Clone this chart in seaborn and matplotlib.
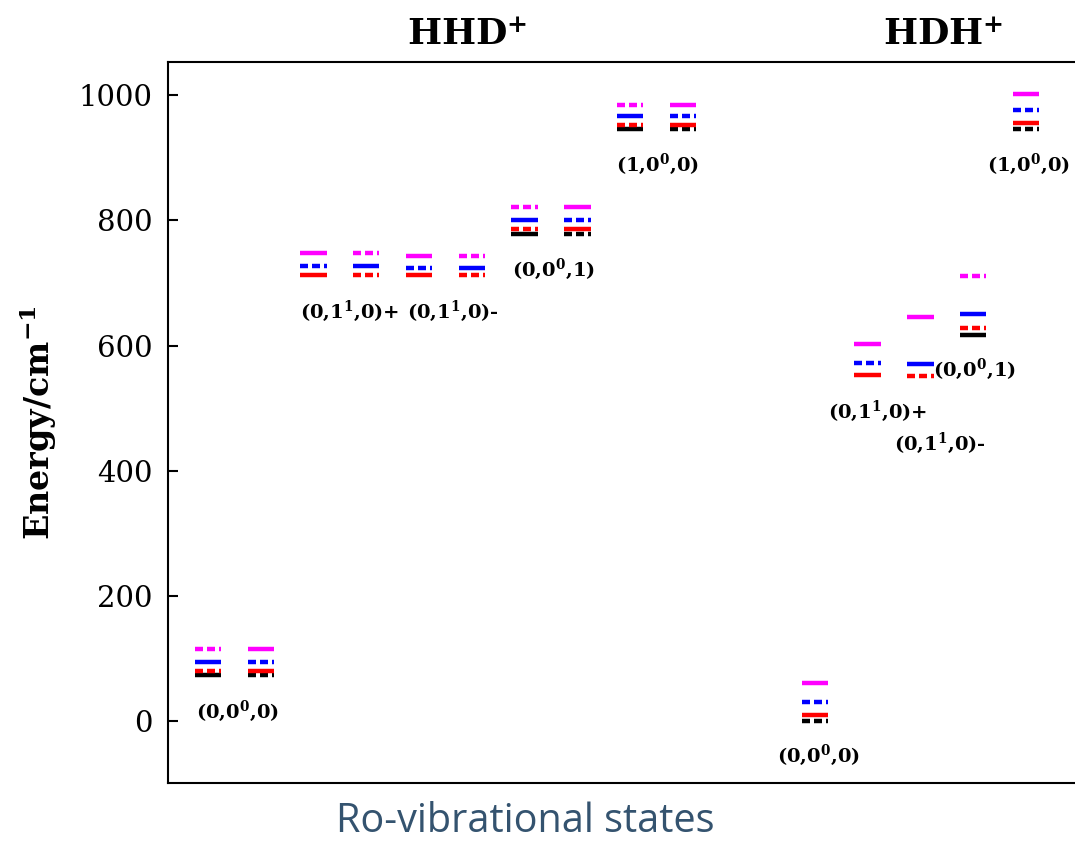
import numpy as np
import pandas as pd
import matplotlib
matplotlib.use("Agg")
import matplotlib.pyplot as plt
import seaborn as sns

# Column positions of the level stacks (arbitrary state axis)
hhd_x = [1, 2, 3, 4, 5, 6, 7, 8, 9, 10]
hdh_x = [12.5, 13.5, 14.5, 15.5, 16.5]
col_x = hhd_x + hdh_x

# Energies (cm^-1) per column; NaN where the level does not exist
black_E = [73, 73, np.nan, np.nan, np.nan, np.nan, 778, 778, 946, 946,
           0, np.nan, np.nan, 617, 946]
red_E = [80, 80, 713, 713, 712, 712, 786, 786, 953, 953,
         10, 553, 551, 628, 955]
blue_E = [94, 94, 727, 727, 724, 724, 800, 800, 967, 967,
          30, 572, 571, 651, 977]
magenta_E = [115, 115, 748, 748, 743, 743, 821, 821, 985, 985,
             60, 603, 646, 711, 1002]

# Line style of each level per column: S = solid, D = dash-dot
black_S = list("SD....SDSD" + "D..SD")
red_S = list("DSSDSDDSDS" + "SSDDS")
blue_S = list("SDDSDSSDSD" + "DDSSD")
magenta_S = list("DSSDSDDSDS" + "SSSDS")

series_colors = {"black": "black", "red": "red", "blue": "blue", "magenta": "magenta"}

state_labels = [r"(0,0$^{\mathbf{0}}$,0)", r"(0,1$^{\mathbf{1}}$,0)+",
                r"(0,1$^{\mathbf{1}}$,0)-", r"(0,0$^{\mathbf{0}}$,1)",
                r"(1,0$^{\mathbf{0}}$,0)",
                r"(0,0$^{\mathbf{0}}$,0)", r"(0,1$^{\mathbf{1}}$,0)+",
                r"(0,1$^{\mathbf{1}}$,0)-", r"(0,0$^{\mathbf{0}}$,1)",
                r"(1,0$^{\mathbf{0}}$,0)"]
label_pos = [(1.55, 16), (3.69, 655), (5.64, 655), (7.54, 721), (9.51, 889),
             (12.56, -55), (13.69, 495), (14.87, 444), (15.53, 562), (16.54, 889)]

molecule_titles = [r"HHD$^{\mathbf{+}}$", r"HDH$^{\mathbf{+}}$"]
title_x = [5.91, 14.93]

yticks = [0, 200, 400, 600, 800, 1000]

# Build a long table: each level is a short horizontal segment (two points)
half_w = 0.25
rows = []
level_id = 0
for name, energies, styles in [("black", black_E, black_S), ("red", red_E, red_S),
                               ("blue", blue_E, blue_S), ("magenta", magenta_E, magenta_S)]:
    for x, e, s in zip(col_x, energies, styles):
        if np.isnan(e):
            continue
        for dx in (-half_w, half_w):
            rows.append({"x": x + dx, "E": e, "series": name,
                         "style": "solid" if s == "S" else "dashdot", "lvl": level_id})
        level_id += 1
df = pd.DataFrame(rows)

sns.set_style("ticks")
plt.rcParams["font.family"] = ["DejaVu Serif"]
plt.rcParams["mathtext.fontset"] = "dejavuserif"
plt.rcParams["text.color"] = "black"
plt.rcParams["axes.labelcolor"] = "black"
plt.rcParams["ytick.color"] = "black"
plt.rcParams["xtick.color"] = "black"

fig = plt.figure(figsize=(10.75, 8.41), dpi=100)
ax = fig.add_axes([168 / 1075, 1 - 783 / 841, 1 - 168 / 1075, 721 / 841])

lw = 3.2
sns.lineplot(data=df, x="x", y="E", hue="series", style="style", units="lvl",
             estimator=None, palette=series_colors,
             hue_order=["black", "red", "blue", "magenta"],
             dashes={"solid": "", "dashdot": (5.76 / lw, 2.88 / lw)},
             linewidth=lw, legend=False, ax=ax,
             solid_capstyle="butt", dash_capstyle="butt")

ax.set_xlim(0.242, 17.43)
ax.set_ylim(-99, 1053)
ax.set_xticks([])
ax.set_yticks(yticks)
ax.set_yticklabels([str(t) for t in yticks], fontsize=21, family="DejaVu Serif")
ax.tick_params(axis="y", direction="in", length=7.5, width=1.5, pad=11,
               right=False, colors="black")
ax.set_xlabel("")
ax.set_ylabel(r"Energy/cm$^{\mathbf{-1}}$", fontsize=24, fontweight="bold",
              labelpad=14)
for side in ("left", "top", "bottom"):
    ax.spines[side].set_linewidth(1.5)
    ax.spines[side].set_color("black")
ax.spines["right"].set_visible(False)

for text, (lx, ly) in zip(state_labels, label_pos):
    ax.text(lx, ly, text, ha="center", va="center", fontsize=14,
            fontweight="bold", color="black")

for text, tx in zip(molecule_titles, title_x):
    ax.text(tx, 1.037, text, transform=ax.get_xaxis_transform(), ha="center",
            va="center", fontsize=26, fontweight="bold", clip_on=False)

fig.text(525 / 1075, 1 - 822 / 841, "Ro-vibrational states", ha="center",
         va="center", fontsize=28.5, family="Open Sans", color="#34536f")

fig.savefig("out.png", dpi=100)
